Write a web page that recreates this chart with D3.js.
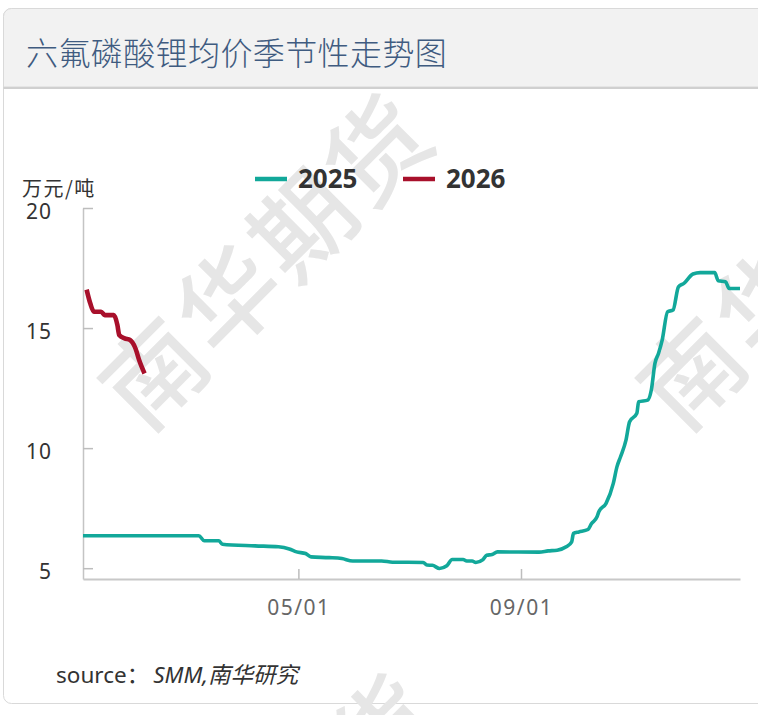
<!DOCTYPE html>
<html>
<head>
<meta charset="utf-8">
<script src="https://cdn.jsdelivr.net/npm/d3@7"></script>
<style>
  body { margin: 0; background: #fff; }
  svg { display: block; font-family: "Noto Sans", "Noto Sans CJK SC", sans-serif; }
</style>
</head>
<body>
<div id="chart"></div>
<script>
// seasonal chart data (万元/吨), month-day on a common year axis
const dates2025 = ['01-02', '03-07', '03-10', '03-18', '03-20', '04-07', '04-20', '04-26', '04-30',
  '05-05', '05-08', '05-18', '05-25', '05-31', '06-16', '06-22', '07-09', '07-11', '07-14', '07-18',
  '07-22', '07-25', '07-31', '08-02', '08-05', '08-07', '08-11', '08-13', '08-16', '08-19', '09-11',
  '09-16', '09-21', '09-26', '09-29', '09-30', '10-03', '10-08', '10-10', '10-13', '10-14', '10-18',
  '10-22', '10-24', '10-26', '10-29', '10-31', '11-04', '11-05', '11-10', '11-12', '11-14', '11-16',
  '11-18', '11-21', '11-24', '11-27', '11-30', '12-05', '12-09', '12-17', '12-19', '12-23', '12-25', '12-31'];
const values2025 = [6.35, 6.35, 6.14, 6.14, 6.00, 5.93, 5.89, 5.80, 5.68,
  5.61, 5.47, 5.44, 5.40, 5.30, 5.30, 5.25, 5.24, 5.13, 5.12, 4.99,
  5.10, 5.36, 5.36, 5.30, 5.30, 5.24, 5.36, 5.54, 5.57, 5.68, 5.67,
  5.72, 5.75, 5.89, 6.10, 6.45, 6.51, 6.61, 6.86, 7.14, 7.35, 7.70,
  8.53, 9.22, 9.64, 10.33, 11.10, 11.45, 11.93, 12.00, 12.42, 13.53, 13.95,
  14.50, 15.68, 15.75, 16.72, 16.86, 17.25, 17.31, 17.31, 16.97, 16.93, 16.65, 16.65];

const dates2026 = ['01-04', '01-06', '01-08', '01-12', '01-14', '01-19', '01-21', '01-22',
  '01-25', '01-28', '01-31', '02-02', '02-05'];
const values2026 = [16.60, 16.03, 15.68, 15.68, 15.54, 15.54, 15.13, 14.71,
  14.57, 14.50, 14.15, 13.67, 13.11];

const yTicks = [5, 10, 15, 20];
const xTicks = ['05-01', '09-01'];
const xTickLabels = ['05/01', '09/01'];
const seriesNames = ['2025', '2026'];
const seriesColors = ['#12a89a', '#a8102b'];

const W = 758, H = 715;
const parse = d3.timeParse('%Y-%m-%d');
const md = s => parse('2025-' + s);

const svg = d3.select('#chart').append('svg')
  .attr('width', W)
  .attr('height', H);

// panel + header
svg.append('rect')
  .attr('x', 3.5).attr('y', 8.5)
  .attr('width', 800).attr('height', 695)
  .attr('rx', 8)
  .attr('fill', '#fff')
  .attr('stroke', '#d9d9d9');

// watermark, clipped to the panel body
svg.append('clipPath').attr('id', 'body-clip')
  .append('rect').attr('x', 0).attr('y', 88).attr('width', W).attr('height', H - 88);
const wm = svg.append('g').attr('fill', '#e6e6e6')
  .attr('clip-path', 'url(#body-clip)')
  .style('font-family', '"Noto Sans CJK SC", sans-serif')
  .style('font-weight', 500)
  .style('font-size', '100px');
[[263, 256], [801, 256], [269, 836]].forEach(p => {
  wm.append('text')
    .attr('transform', 'translate(' + p[0] + ',' + p[1] + ') rotate(-45)')
    .attr('text-anchor', 'middle')
    .attr('dominant-baseline', 'central')
    .attr('letter-spacing', 5)
    .text('南华期货');
});

svg.append('path')
  .attr('d', 'M3.5,87 V16.5 A8,8 0 0 1 11.5,8.5 H760 V87 Z')
  .attr('fill', '#f2f2f2')
  .attr('stroke', '#d9d9d9');
svg.append('line')
  .attr('x1', 3.5).attr('x2', 758)
  .attr('y1', 88).attr('y2', 88)
  .attr('stroke', '#d0d0d0')
  .attr('stroke-width', 2);
svg.append('text')
  .attr('x', 26).attr('y', 65)
  .attr('fill', '#3f5b80')
  .style('font-family', '"Noto Sans CJK SC", sans-serif')
  .style('font-weight', 300)
  .style('font-size', '32px')
  .attr('letter-spacing', 0.4)
  .text('六氟磷酸锂均价季节性走势图');

// scales
const x = d3.scaleTime()
  .domain([md('01-02'), md('12-31')])
  .range([83, 740]);
const y = d3.scaleLinear()
  .domain([4.55, 20])
  .range([579, 208]);

// axes
const yAxis = svg.append('g')
  .attr('transform', 'translate(83,0)')
  .call(d3.axisLeft(y).tickValues(yTicks).tickSizeInner(-10).tickSizeOuter(0).tickPadding(31));
yAxis.select('.domain').attr('stroke', '#c4c4c4').attr('stroke-width', 1.5);
yAxis.selectAll('.tick line').attr('stroke', '#bdbdbd').attr('stroke-width', 1.5);
yAxis.selectAll('.tick text')
  .attr('dy', '0.48em')
  .attr('fill', '#333')
  .attr('letter-spacing', 1)
  .style('font-size', '21px')
  .style('font-family', '"Noto Sans", sans-serif');

const xAxis = svg.append('g')
  .attr('transform', 'translate(0,579)')
  .call(d3.axisBottom(x).tickValues(xTicks.map(md)).tickSizeInner(-10).tickSizeOuter(0).tickPadding(21)
    .tickFormat((d, i) => xTickLabels[i]));
xAxis.select('.domain').attr('stroke', '#c8c8c8').attr('stroke-width', 2);
xAxis.selectAll('.tick line').attr('stroke', '#bdbdbd').attr('stroke-width', 1.5);
xAxis.selectAll('.tick text')
  .attr('fill', '#666')
  .attr('letter-spacing', 1.5)
  .style('font-size', '21px')
  .style('font-family', '"Noto Sans", sans-serif');

svg.append('text')
  .attr('x', 22).attr('y', 196)
  .attr('fill', '#333')
  .attr('letter-spacing', 1.5)
  .style('font-family', '"Noto Sans CJK SC", sans-serif')
  .style('font-size', '20px')
  .text('万元/吨');

// lines
const line = d3.line()
  .x(d => x(md(d[0])))
  .y(d => y(d[1]))
  .curve(d3.curveMonotoneX);

const series = [
  d3.zip(dates2025, values2025),
  d3.zip(dates2026, values2026)
];
svg.selectAll('.series')
  .data(series)
  .enter().append('path')
  .attr('class', 'series')
  .attr('d', line)
  .attr('fill', 'none')
  .attr('stroke', (d, i) => seriesColors[i])
  .attr('stroke-width', (d, i) => i === 0 ? 3.6 : 4.6)
  .attr('stroke-linejoin', 'round');

// legend
const legend = svg.append('g');
const lx = [255, 403];
seriesNames.forEach((name, i) => {
  legend.append('line')
    .attr('x1', lx[i]).attr('x2', lx[i] + 32)
    .attr('y1', 179).attr('y2', 179)
    .attr('stroke', seriesColors[i])
    .attr('stroke-width', 4.5);
  legend.append('text')
    .attr('x', lx[i] + 43).attr('y', 188)
    .attr('fill', '#333')
    .style('font-size', '26px')
    .style('font-weight', 700)
    .text(name);
});

// source
const src = svg.append('text')
  .attr('x', 56).attr('y', 683)
  .attr('fill', '#333')
  .style('font-family', '"Noto Sans", "Noto Sans CJK SC", sans-serif')
  .style('font-size', '22.5px');
src.append('tspan').text('source：');
src.append('tspan').attr('dx', 4).style('font-style', 'italic').text('SMM,南华研究');
</script>
</body>
</html>
